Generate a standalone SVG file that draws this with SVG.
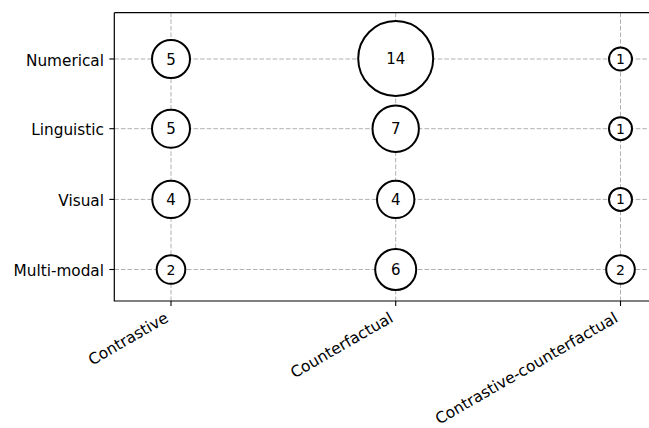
<svg xmlns="http://www.w3.org/2000/svg" width="649" height="428" viewBox="0 0 649 428">
  <style>
    .grid { stroke: #b0b0b0; stroke-width: 1; stroke-dasharray: 4.6 2; fill: none; }
    .spine { stroke: #000; stroke-width: 1.2; fill: none; }
    .tick { stroke: #000; stroke-width: 1.1; }
    .bubble { fill: #fff; stroke: #000; stroke-width: 2; }
    .ylab { font-family: "DejaVu Sans", sans-serif; font-size: 15.3px; fill: #000; text-anchor: end; }
    .xlab { font-family: "DejaVu Sans", sans-serif; font-size: 15.5px; fill: #000; text-anchor: end; }
    .count { font-family: "DejaVu Sans", sans-serif; font-size: 15px; fill: #000; text-anchor: middle; }
    .count.small { font-size: 14px; }
  </style>
  <rect width="649" height="428" fill="#fff"/>

  <!-- grid -->
  <g id="grid">
    <line class="grid" x1="171" y1="12.7" x2="171" y2="301"/>
    <line class="grid" x1="395.7" y1="12.7" x2="395.7" y2="301"/>
    <line class="grid" x1="620.5" y1="12.7" x2="620.5" y2="301"/>
    <line class="grid" x1="114.3" y1="59" x2="649" y2="59"/>
    <line class="grid" x1="114.3" y1="128.7" x2="649" y2="128.7"/>
    <line class="grid" x1="114.3" y1="199.4" x2="649" y2="199.4"/>
    <line class="grid" x1="114.3" y1="269.5" x2="649" y2="269.5"/>
  </g>

  <!-- axes frame and ticks -->
  <g id="axes">
    <path class="spine" d="M114.3 12.7 V301 H649 M114.3 12.7 H649"/>
    <line class="tick" x1="109.3" y1="59" x2="114.3" y2="59"/>
    <line class="tick" x1="109.3" y1="128.7" x2="114.3" y2="128.7"/>
    <line class="tick" x1="109.3" y1="199.4" x2="114.3" y2="199.4"/>
    <line class="tick" x1="109.3" y1="269.5" x2="114.3" y2="269.5"/>
    <line class="tick" x1="171" y1="301" x2="171" y2="306"/>
    <line class="tick" x1="395.7" y1="301" x2="395.7" y2="306"/>
    <line class="tick" x1="620.5" y1="301" x2="620.5" y2="306"/>
  </g>

  <!-- category labels -->
  <g id="y-labels">
    <text class="ylab" x="104" y="65.5">Numerical</text>
    <text class="ylab" x="104" y="135.2">Linguistic</text>
    <text class="ylab" x="104" y="205.9">Visual</text>
    <text class="ylab" x="104" y="276">Multi-modal</text>
  </g>
  <g id="x-labels">
    <text class="xlab" transform="translate(169.5 321) rotate(-30)">Contrastive</text>
    <text class="xlab" transform="translate(394.2 321) rotate(-30)">Counterfactual</text>
    <text class="xlab" transform="translate(619 321) rotate(-30)">Contrastive-counterfactual</text>
  </g>

  <!-- bubbles: row = modality, column = explanation type -->
  <g id="numerical-contrastive"><circle class="bubble" cx="171" cy="59" r="19"/><text class="count" x="171" y="64.5">5</text></g>
  <g id="numerical-counterfactual"><circle class="bubble" cx="395.7" cy="58.5" r="37.5"/><text class="count" x="395.7" y="64">14</text></g>
  <g id="numerical-contrastive-counterfactual"><circle class="bubble" cx="620.5" cy="59" r="11.5"/><text class="count small" x="620.5" y="64">1</text></g>

  <g id="linguistic-contrastive"><circle class="bubble" cx="171" cy="128.7" r="19"/><text class="count" x="171" y="134.2">5</text></g>
  <g id="linguistic-counterfactual"><circle class="bubble" cx="395.7" cy="128.7" r="23.2"/><text class="count" x="395.7" y="134.2">7</text></g>
  <g id="linguistic-contrastive-counterfactual"><circle class="bubble" cx="620.5" cy="128.7" r="11.5"/><text class="count small" x="620.5" y="133.7">1</text></g>

  <g id="visual-contrastive"><circle class="bubble" cx="171" cy="199.4" r="18.7"/><text class="count" x="171" y="204.9">4</text></g>
  <g id="visual-counterfactual"><circle class="bubble" cx="395.7" cy="199.4" r="18.7"/><text class="count" x="395.7" y="204.9">4</text></g>
  <g id="visual-contrastive-counterfactual"><circle class="bubble" cx="620.5" cy="199.4" r="11.5"/><text class="count small" x="620.5" y="204.4">1</text></g>

  <g id="multimodal-contrastive"><circle class="bubble" cx="171" cy="269.5" r="14.3"/><text class="count small" x="171" y="274.5">2</text></g>
  <g id="multimodal-counterfactual"><circle class="bubble" cx="395.7" cy="269.5" r="20.5"/><text class="count" x="395.7" y="275">6</text></g>
  <g id="multimodal-contrastive-counterfactual"><circle class="bubble" cx="620.5" cy="269.5" r="14.3"/><text class="count small" x="620.5" y="274.5">2</text></g>
</svg>
